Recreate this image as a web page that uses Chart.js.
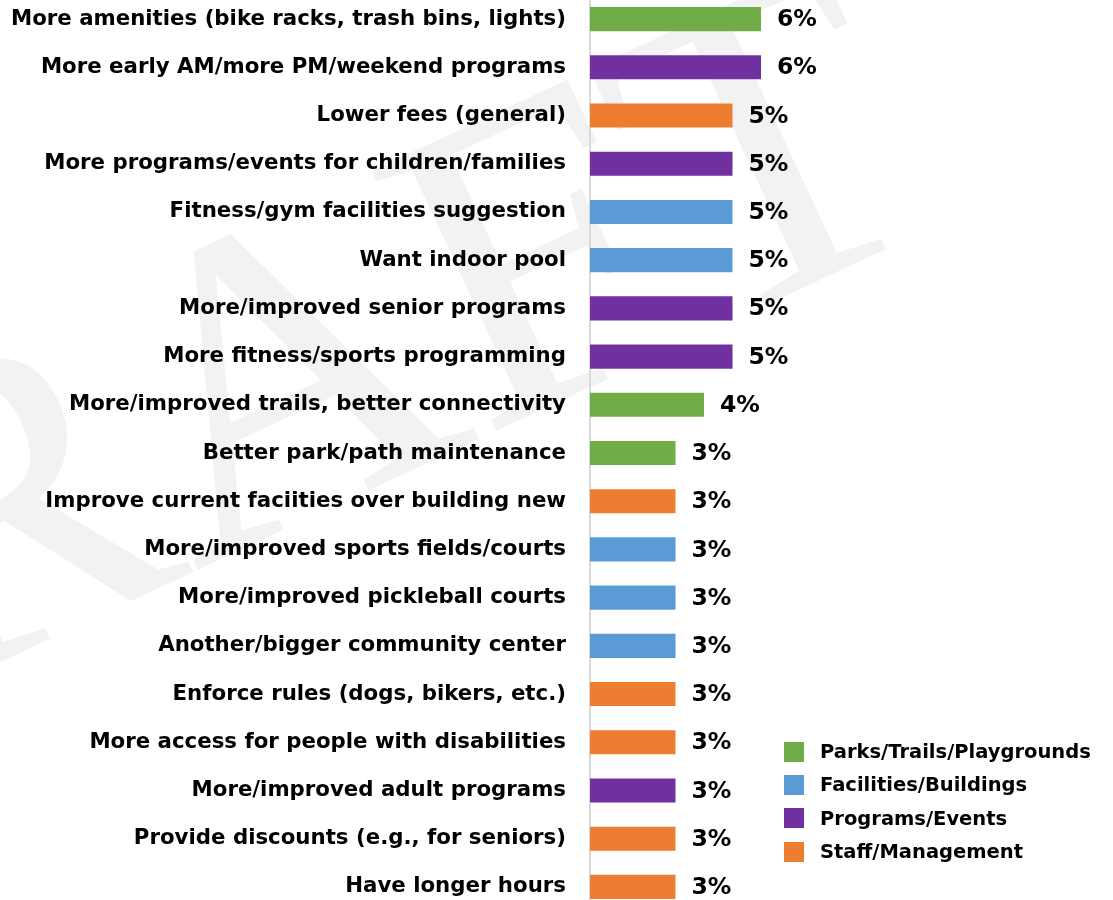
<!DOCTYPE html>
<html>
<head>
<meta charset="utf-8">
<script src="https://cdn.jsdelivr.net/npm/chart.js@4"></script>
<style>
  html, body { margin: 0; padding: 0; background: #fff; overflow: hidden; }
  #wrap { position: absolute; left: 0; top: -5px; width: 1113px; height: 916px; }
  #legend { position: absolute; left: 784px; top: 735px; font: bold 19.5px "DejaVu Sans", sans-serif; color: #000; }
  #legend div { height: 33.3px; display: flex; align-items: center; }
  #legend span.box { width: 20px; height: 20px; margin-right: 16px; display: inline-block; }
</style>
</head>
<body>
<div id="wrap"><canvas id="bars"></canvas></div>
<div id="legend"></div>
<script>
var categories = [
  'More amenities (bike racks, trash bins, lights)',
  'More early AM/more PM/weekend programs',
  'Lower fees (general)',
  'More programs/events for children/families',
  'Fitness/gym facilities suggestion',
  'Want indoor pool',
  'More/improved senior programs',
  'More fitness/sports programming',
  'More/improved trails, better connectivity',
  'Better park/path maintenance',
  'Improve current faciities over building new',
  'More/improved sports fields/courts',
  'More/improved pickleball courts',
  'Another/bigger community center',
  'Enforce rules (dogs, bikers, etc.)',
  'More access for people with disabilities',
  'More/improved adult programs',
  'Provide discounts (e.g., for seniors)',
  'Have longer hours'
];
var percents = [6, 6, 5, 5, 5, 5, 5, 5, 4, 3, 3, 3, 3, 3, 3, 3, 3, 3, 3];
// group index for each category
var groupOf = [0, 2, 3, 2, 1, 1, 2, 2, 0, 0, 3, 1, 1, 1, 3, 3, 2, 3, 3];
var groupNames = ['Parks/Trails/Playgrounds', 'Facilities/Buildings', 'Programs/Events', 'Staff/Management'];
var groupColors = ['#70ad47', '#5b9bd5', '#7030a0', '#ed7d31'];

var labelFont = '"DejaVu Sans", sans-serif';

// faint diagonal watermark behind everything
var watermark = {
  id: 'watermark',
  beforeDraw: function (chart) {
    var ctx = chart.ctx;
    ctx.save();
    ctx.translate(-360, 835);
    ctx.rotate(-25 * Math.PI / 180);
    ctx.font = '440px "Liberation Serif", serif';
    ctx.fillStyle = '#f2f2f2';
    ctx.textBaseline = 'alphabetic';
    ctx.fillText('DRAFT', 0, 0);
    ctx.restore();
  }
};

// percent text to the right of each bar
var valueLabels = {
  id: 'valueLabels',
  afterDatasetsDraw: function (chart) {
    var ctx = chart.ctx;
    var meta = chart.getDatasetMeta(0);
    ctx.save();
    ctx.font = 'bold 23.5px ' + labelFont;
    ctx.fillStyle = '#000';
    ctx.textAlign = 'left';
    ctx.textBaseline = 'middle';
    meta.data.forEach(function (bar, i) {
      ctx.fillText(percents[i] + '%', bar.x + 16, bar.y + 1);
    });
    ctx.restore();
  }
};

new Chart(document.getElementById('bars'), {
  type: 'bar',
  data: {
    labels: categories,
    datasets: [{
      data: percents,
      backgroundColor: groupOf.map(function (g) { return groupColors[g]; }),
      borderWidth: 0,
      categoryPercentage: 1,
      barPercentage: 0.5
    }]
  },
  options: {
    indexAxis: 'y',
    responsive: true,
    maintainAspectRatio: false,
    animation: false,
    layout: { padding: { left: 0, right: 10, top: 0, bottom: 0 } },
    plugins: {
      legend: { display: false },
      tooltip: { enabled: false }
    },
    scales: {
      x: {
        display: false,
        min: 0,
        max: 18
      },
      y: {
        afterFit: function (scale) {
          scale.width = 590;
          scale.paddingTop = 0;
          scale.paddingBottom = 0;
        },
        grid: { display: false, drawTicks: false },
        border: { display: true, color: '#d9d9d9', width: 2 },
        ticks: {
          padding: 24,
          color: '#000',
          autoSkip: false,
          font: { family: labelFont, size: 21.3, weight: 'bold' }
        }
      }
    }
  },
  plugins: [watermark, valueLabels]
});

var legend = document.getElementById('legend');
groupNames.forEach(function (name, i) {
  var row = document.createElement('div');
  row.innerHTML = '<span class="box" style="background:' + groupColors[i] + '"></span>' + name;
  legend.appendChild(row);
});
</script>
</body>
</html>
